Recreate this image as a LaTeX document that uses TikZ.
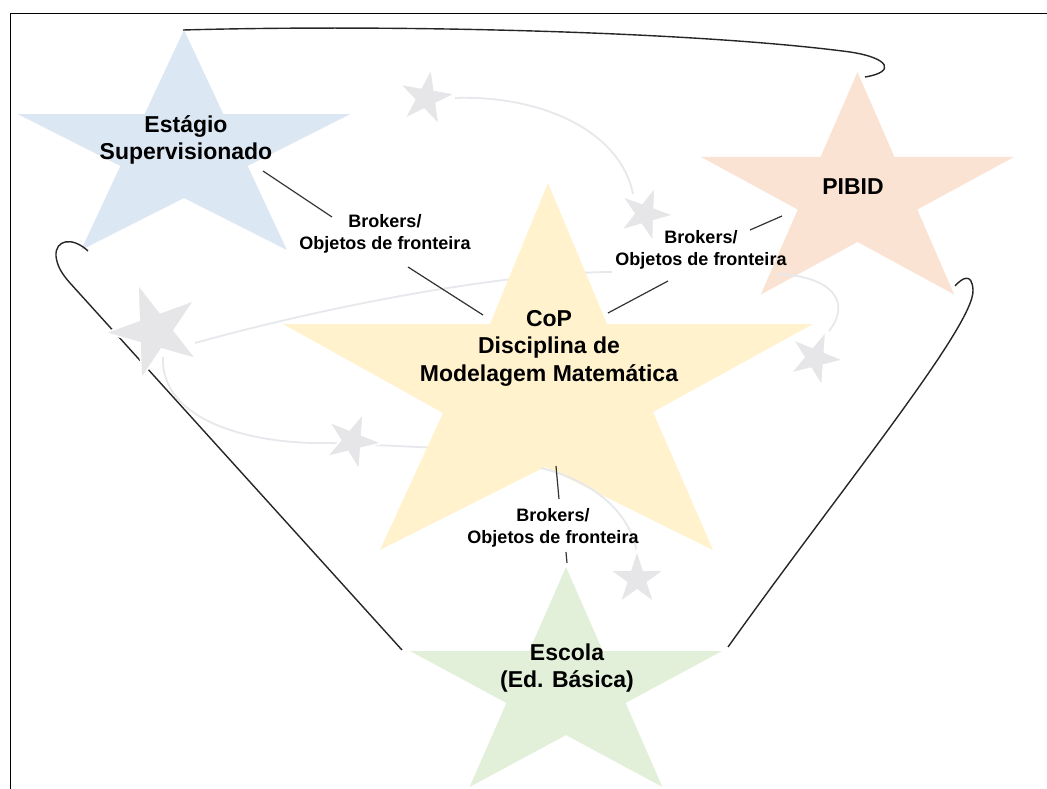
\documentclass[tikz,border=0pt]{standalone}
\usepackage{fontspec}
\setmainfont{Liberation Sans}
\definecolor{starblue}{HTML}{DCE7F4}
\definecolor{starorange}{HTML}{FBE3D4}
\definecolor{staryellow}{HTML}{FFF2CC}
\definecolor{stargreen}{HTML}{E2EFD9}
\definecolor{stargrey}{HTML}{E6E6E8}
\definecolor{trailgrey}{HTML}{E6E8EC}
\newcommand\drawstar[6]{%
  \begin{scope}[shift={(#1,#2)}, rotate=#5, xscale=#3, yscale=-#4]
    \path[#6] (90:1) -- (126:0.382) -- (162:1) -- (198:0.382) -- (234:1) -- (270:0.382)
      -- (306:1) -- (342:0.382) -- (18:1) -- (54:0.382) -- cycle;
  \end{scope}}
\begin{document}
\begin{tikzpicture}[x=1pt,y=-1pt,
  biglabel/.style={font=\fontsize{23}{27.5}\selectfont\bfseries, align=center, inner sep=0pt, text=black},
  brklabel/.style={font=\fontsize{18}{22}\selectfont\bfseries, align=center, inner sep=0pt, text=black},
  outline/.style={draw=black!85, line width=1.4pt},
  conn/.style={draw=black!80, line width=1.2pt},
  trail/.style={draw=trailgrey, line width=1.8pt},
  gstar/.style={fill=stargrey, draw=white, line width=1.6pt, line join=miter}]
\useasboundingbox (0,0) rectangle (1047,789);
\fill[white] (0,0) rectangle (1047,789);
\draw[line width=1pt] (10,14) rectangle (1100,900);

% coloured stars
\drawstar{184}{151.6}{175}{121.6}{0}{fill=starblue}
\drawstar{857.5}{195}{164.5}{123}{0}{fill=starorange}
\drawstar{566}{688.6}{164}{121.6}{0}{fill=stargreen}

% outer black curves
\coordinate (tA) at (183,30);
\coordinate (tB) at (865,77);
\coordinate (lA) at (88,251);
\coordinate (lB) at (402,650);
\coordinate (rA) at (955,286);
\coordinate (rB) at (728,647);
\draw[outline] (tA) .. controls (400,24) and (700,32) .. (850,52) .. controls (890,58) and (896,72) .. (tB);
\draw[outline] (lA) .. controls (72,236) and (55,240) .. (56,256) .. controls (57,266) and (62,274) .. (70,283) -- (lB);
\draw[outline] (rA) .. controls (962,278) and (972,272) .. (973,290) .. controls (975,325) and (840,490) .. (rB);

% grey trails
\coordinate (g1) at (455,98);
\coordinate (g2) at (633,194);
\draw[trail] (g1) .. controls (540,95) and (620,130) .. (g2);
\coordinate (g3r) at (195,343);
\coordinate (g3b) at (163,357);
\coordinate (bmid) at (612,272);
\coordinate (bres) at (777,274);
\coordinate (g5) at (829,331);
\draw[trail] (g3r) .. controls (350,300) and (520,272) .. (bmid);
\draw[trail] (bres) .. controls (832,276) and (852,302) .. (g5);
\coordinate (cend) at (440,448);
\draw[trail] (g3b) .. controls (160,420) and (250,445) .. (330,443) -- (cend);

% yellow star (CoP)
\fill[staryellow] (548,183) -- (607,324) -- (813,324) -- (653,412) -- (713,550) -- (545,467)
  -- (380,550) -- (443,413) -- (283,324) -- (490,324) -- cycle;

\coordinate (dA) at (541,468);
\coordinate (g6) at (637,553);
\draw[trail] (dA) .. controls (590,480) and (630,510) .. (g6);

% small grey stars
\drawstar{426}{98}{30}{30}{-10}{gstar}
\drawstar{645}{214}{29}{29}{-20}{gstar}
\drawstar{155}{331}{50}{50}{20}{gstar}
\drawstar{352}{441}{30}{30}{-22}{gstar}
\drawstar{815}{358}{29}{29}{-22}{gstar}
\drawstar{637}{579}{29}{29}{0}{gstar}

% labels
\node[biglabel] (est) at (186,140) {Estágio\\Supervisionado};
\node[biglabel] (pibid) at (853,187) {PIBID};
\node[biglabel] (cop) at (549,348) {CoP\\Disciplina de\\Modelagem Matemática};
\node[biglabel] (escola) at (567,668) {Escola\\(Ed. Básica)};
\node[brklabel] (b1) at (385,234) {Brokers/\\Objetos de fronteira};
\node[brklabel] (b2) at (701,250) {Brokers/\\Objetos de fronteira};
\node[brklabel] (b3) at (553,528) {Brokers/\\Objetos de fronteira};

% connectors
\coordinate (c1a) at (263,171); \coordinate (c1b) at (332,217);
\coordinate (c2a) at (408,267); \coordinate (c2b) at (483,315);
\coordinate (c3a) at (782,216); \coordinate (c3b) at (750,230);
\coordinate (c4a) at (668,281); \coordinate (c4b) at (608,313);
\coordinate (c5a) at (556,466); \coordinate (c5b) at (559,499);
\coordinate (c6a) at (566,552); \coordinate (c6b) at (567,563);
\draw[conn] (c1a) -- (c1b);
\draw[conn] (c2a) -- (c2b);
\draw[conn] (c3a) -- (c3b);
\draw[conn] (c4a) -- (c4b);
\draw[conn] (c5a) -- (c5b);
\draw[conn] (c6a) -- (c6b);
\end{tikzpicture}
\end{document}
